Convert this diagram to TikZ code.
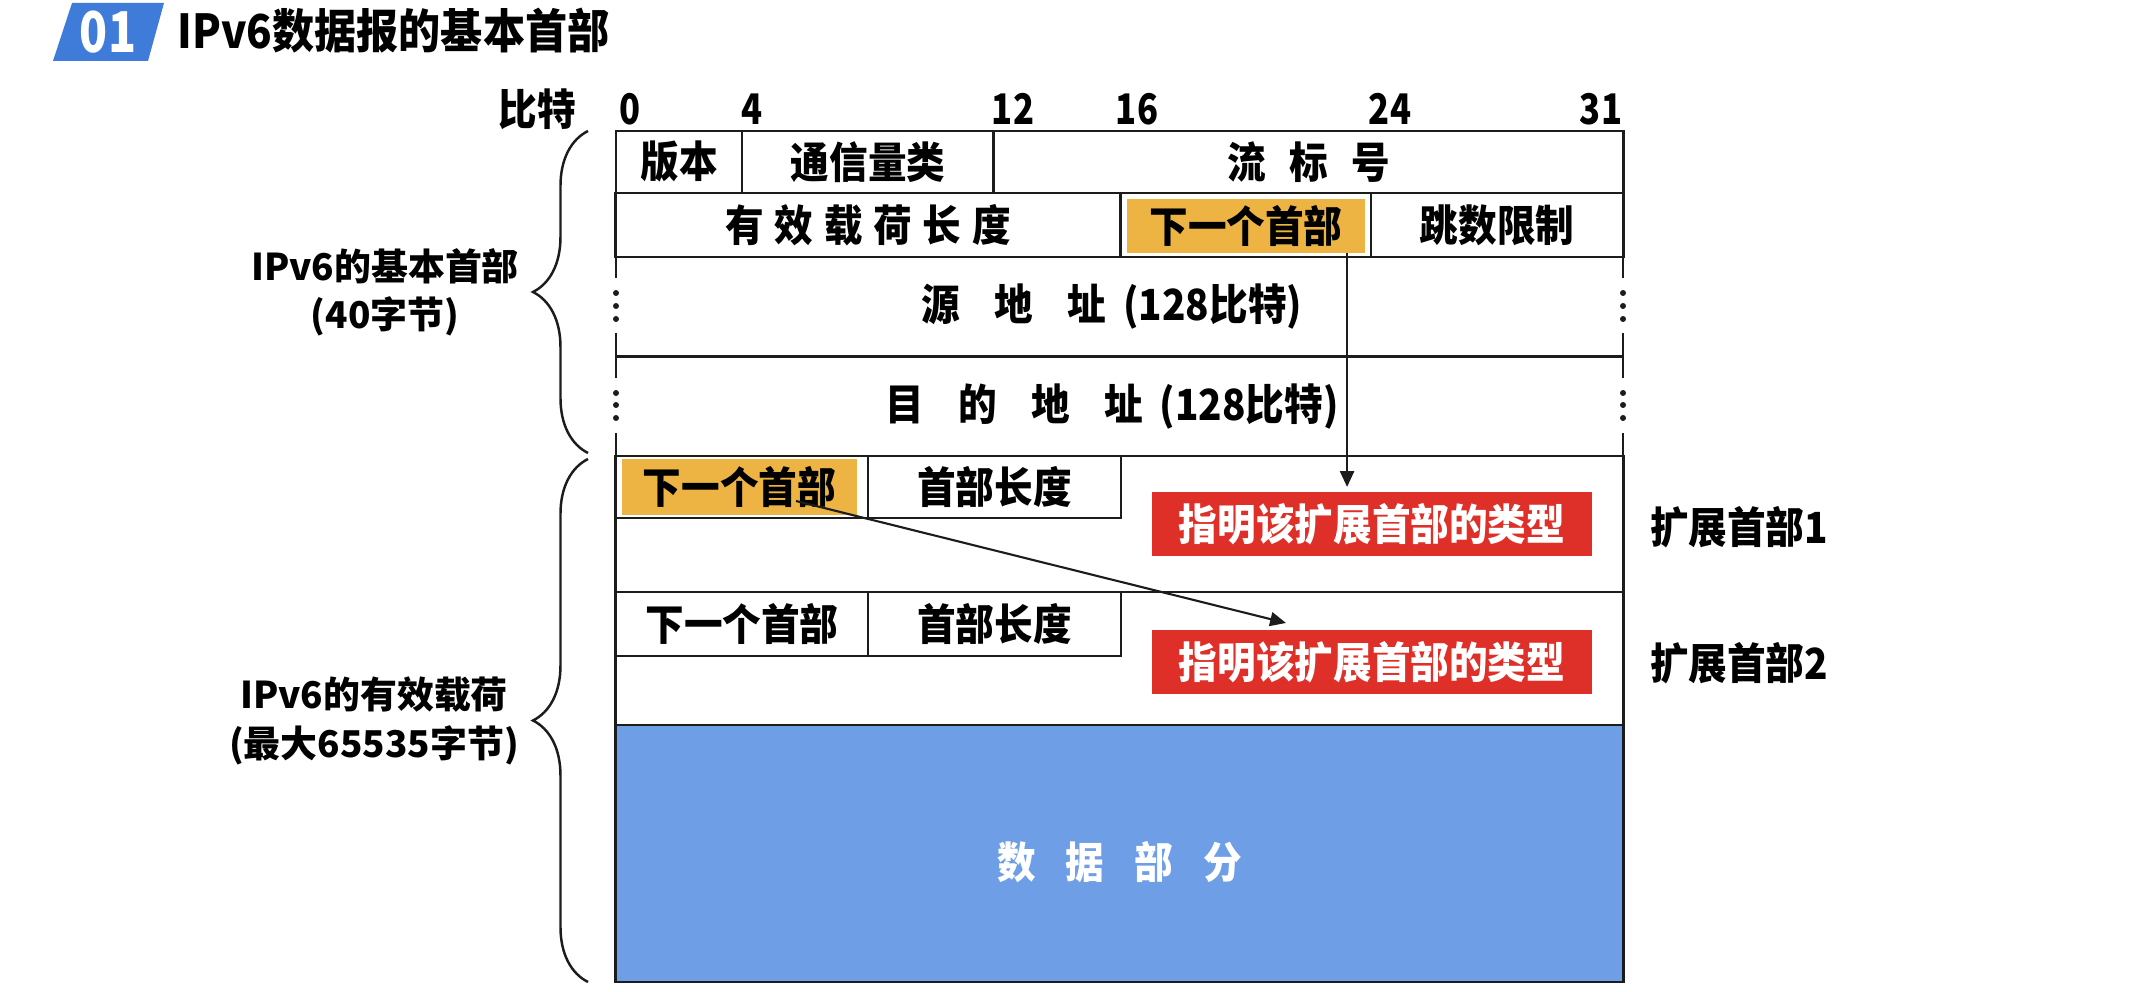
\documentclass[tikz,border=0pt]{standalone}
\usepackage{fontspec}
\setmainfont{Noto Sans CJK SC}
\newfontfamily\narrowf{Noto Sans CJK SC}[FakeStretch=0.82]
\newfontfamily\tallf{Noto Sans CJK SC}[FakeStretch=0.9]
\usetikzlibrary{arrows.meta,decorations.pathreplacing}
\definecolor{hdrorange}{HTML}{EDB443}
\definecolor{typered}{HTML}{DE2F28}
\definecolor{datablue}{HTML}{6D9EE6}
\definecolor{badgeblue}{HTML}{3F7BD9}
\definecolor{linecol}{HTML}{1C1C1C}
\newcommand\mygap[1]{\hspace{#1em}}
\tikzset{
  tbl/.style={font=\tallf\bfseries\fontsize{12.2pt}{14pt}\selectfont, inner sep=0pt, outer sep=0pt},
  cell/.style args={#1/#2}{draw=linecol, line width=0.8pt, minimum width=#1, minimum height=#2, tbl},
  tline/.style={draw=linecol, line width=0.8pt},
  hilite/.style={fill=hdrorange, tbl},
  redbox/.style={fill=typered, text=white, minimum width=4.4cm, minimum height=0.64cm, tbl},
  bitf/.style={font=\narrowf\bfseries\fontsize{12pt}{13pt}\selectfont, inner sep=0pt},
  side/.style={font=\bfseries\fontsize{10.5pt}{13.7pt}\selectfont, align=center, inner sep=0pt},
  lbl/.style={font=\tallf\bfseries\fontsize{12.2pt}{14pt}\selectfont, inner sep=0pt},
  arr/.style={draw=linecol, line width=0.6pt, -{Triangle[length=4.5pt,width=4pt]}},
  brc/.style={draw=linecol, line width=0.7pt, decorate, decoration={brace, amplitude=0.55cm, aspect=0.5}},
}
\begin{document}
\begin{tikzpicture}[x=0.01cm,y=-0.01cm]
\useasboundingbox (0,0) rectangle (2133,992);
% title
\fill[badgeblue] (72,3) -- (164,3) -- (148,61) -- (53,61) -- cycle;
\node[font=\narrowf\bfseries\fontsize{16pt}{18pt}\selectfont, text=white, inner sep=0pt] (num) at (108,32) {01};
\node[anchor=west, font=\tallf\bfseries\fontsize{13.3pt}{15pt}\selectfont, inner sep=0pt] (ttl) at (177,31) {IPv6数据报的基本首部};
% bit labels
\node[font=\tallf\bfseries\fontsize{12.2pt}{14pt}\selectfont, inner sep=0pt] (bits) at (537,109) {比特};
\node[bitf] (b0) at (630,109) {0};
\node[bitf] (b4) at (752,109) {4};
\node[bitf] (b12) at (1013,109) {12};
\node[bitf] (b16) at (1137,109) {16};
\node[bitf] (b24) at (1390,109) {24};
\node[bitf] (b31) at (1601,109) {31};
% row 1
\node[cell={1.26cm/0.62cm}] (ver) at (679,162) {版本};
\node[cell={2.52cm/0.62cm}] (tc) at (868,162) {通信量类};
\node[cell={6.29cm/0.62cm}] (fl) at (1308.5,162) {流\mygap{0.55}标\mygap{0.55}号};
% row 2
\node[cell={5.04cm/0.64cm}] (plen) at (868,225) {有\mygap{0.25}效\mygap{0.25}载\mygap{0.25}荷\mygap{0.25}长\mygap{0.25}度};
\node[cell={2.51cm/0.64cm}] (nhc) at (1245.5,225) {};
\node[hilite, minimum width=2.38cm, minimum height=0.54cm] (nh0) at (1246,226) {下一个首部};
\node[cell={2.52cm/0.64cm}] (hop) at (1497,225) {跳数限制};
% address rows
\node[tbl, minimum width=10.07cm, minimum height=0.995cm] (src) at (1112,306.75) {源\mygap{0.8}地\mygap{0.8}址\mygap{0.4}(128比特)};
\node[tbl, minimum width=10.07cm, minimum height=0.995cm] (dst) at (1112,406.25) {目\mygap{0.8}的\mygap{0.8}地\mygap{0.8}址\mygap{0.4}(128比特)};
\draw[tline] (plen.south west) -- (hop.south east);
\draw[tline] (616,356.5) -- (1623,356.5);
\foreach \xx in {616,1623} {
  \draw[tline] (\xx,257) -- (\xx,278);
  \draw[tline] (\xx,333) -- (\xx,378);
  \draw[tline] (\xx,433) -- (\xx,456);
  \foreach \yy in {293,306,319,393,405,418} \fill[linecol] (\xx,\yy) circle (0.03cm);
}
% extension headers
\node[cell={10.07cm/1.36cm}] (ext1) at (1119.5,524) {};
\node[cell={10.07cm/1.33cm}] (ext2) at (1119.5,658.5) {};
\node[cell={2.52cm/0.62cm}] (nh1c) at (742,487) {};
\node[hilite, minimum width=2.35cm, minimum height=0.56cm] (nh1) at (739.5,487) {下一个首部};
\node[cell={2.53cm/0.62cm}] (hl1) at (994.5,487) {首部长度};
\node[cell={2.52cm/0.64cm}] (nh2) at (742,624) {下一个首部};
\node[cell={2.53cm/0.64cm}] (hl2) at (994.5,624) {首部长度};
\node[redbox] (red1) at (1372,524) {指明该扩展首部的类型};
\node[redbox] (red2) at (1372,662) {指明该扩展首部的类型};
% data
\node[cell={10.07cm/2.57cm}, fill=datablue] (data) at (1119.5,853.5) {};
\node[tbl, text=white] (dtxt) at ([yshift=-0.09cm]data.center) {数\mygap{0.7}据\mygap{0.7}部\mygap{0.7}分};
% right labels
\node[lbl] (e1) at (1739,527) {扩展首部1};
\node[lbl] (e2) at (1739,663) {扩展首部2};
% arrows
\draw[arr] ([xshift=1.01cm]nh0.south) -- ([xshift=1.01cm,yshift=0.05cm]nh0.south |- red1.north);
\draw[arr] ([xshift=0.565cm,yshift=-0.14cm]nh1.center) -- ([xshift=1.34cm,yshift=0.07cm]red2.north west);
% braces
\coordinate (bA) at (588,453);
\coordinate (bB) at (588,131);
\coordinate (bC) at (588,982);
\coordinate (bD) at (588,459);
\draw[brc] (bA) -- (bB);
\draw[brc] (bC) -- (bD);
\node[side] (lh) at (385,292) {IPv6的基本首部\\(40字节)};
\node[side] (lp) at (374,721) {IPv6的有效载荷\\(最大65535字节)};
\end{tikzpicture}
\end{document}
